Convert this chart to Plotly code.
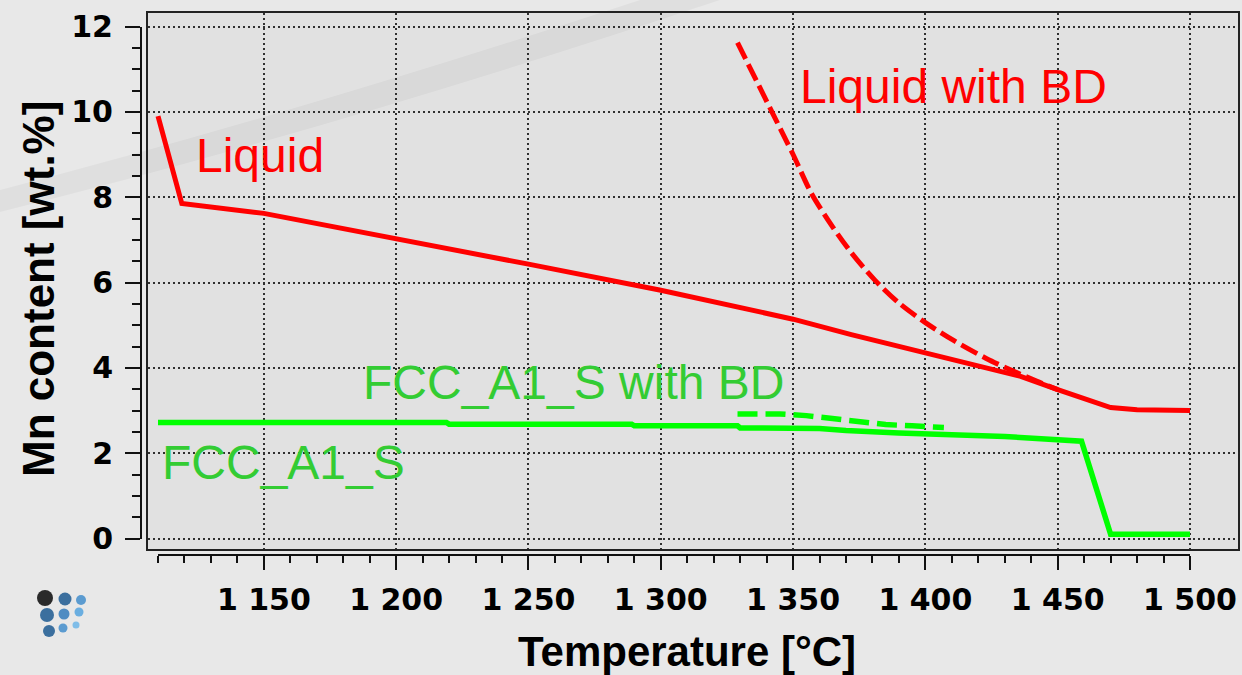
import plotly.graph_objects as go

# ---------------- data ----------------
liquid_T = [1110, 1119, 1150, 1200, 1250, 1300, 1350, 1372, 1400, 1423, 1436, 1450, 1461, 1470, 1480, 1500]
liquid_Mn = [9.9, 7.85, 7.62, 7.03, 6.43, 5.82, 5.14, 4.78, 4.36, 4.01, 3.80, 3.49, 3.26, 3.07, 3.02, 3.00]

liquid_bd_T = [1329, 1342, 1350, 1357, 1365, 1372, 1381, 1390, 1400, 1411, 1423, 1433, 1442, 1450]
liquid_bd_Mn = [11.62, 10.0, 9.0, 8.08, 7.3, 6.7, 6.05, 5.52, 5.06, 4.63, 4.22, 3.93, 3.69, 3.49]

fcc_T = [1110, 1219, 1220, 1289, 1290, 1329, 1330, 1360, 1370, 1390, 1430, 1450, 1459, 1470, 1500]
fcc_Mn = [2.72, 2.72, 2.68, 2.68, 2.64, 2.64, 2.59, 2.58, 2.53, 2.47, 2.39, 2.33, 2.28, 0.10, 0.10]

fcc_bd_T = [1329, 1345, 1355, 1362, 1372, 1385, 1395, 1407]
fcc_bd_Mn = [2.92, 2.92, 2.88, 2.83, 2.75, 2.67, 2.64, 2.60]

x_tick_vals = [1150, 1200, 1250, 1300, 1350, 1400, 1450, 1500]
x_tick_text = ["1 150", "1 200", "1 250", "1 300", "1 350", "1 400", "1 450", "1 500"]
y_tick_vals = [0, 2, 4, 6, 8, 10, 12]
y_tick_text = ["0", "2", "4", "6", "8", "10", "12"]

# ---------------- layout helpers (pixel -> paper) ----------------
W, H = 1242, 675


def px(x):
    return x / W


def py(y):
    return 1 - y / H


kx = (1190 - 158) / 390.0   # px per degree
ky = (538.5 - 26.5) / 12.0  # px per wt.%

RED = "#ff0000"
GREEN = "#00ff00"
GREEN_TXT = "#33cc33"

fig = go.Figure()

fig.add_trace(go.Scatter(x=liquid_T, y=liquid_Mn, mode="lines",
                         line=dict(color=RED, width=5), showlegend=False, hoverinfo="skip"))
fig.add_trace(go.Scatter(x=liquid_bd_T, y=liquid_bd_Mn, mode="lines",
                         line=dict(color=RED, width=5, dash="18px,6px", shape="spline", smoothing=0.8),
                         showlegend=False, hoverinfo="skip"))
fig.add_trace(go.Scatter(x=fcc_T, y=fcc_Mn, mode="lines",
                         line=dict(color=GREEN, width=5.5), showlegend=False, hoverinfo="skip"))
fig.add_trace(go.Scatter(x=fcc_bd_T, y=fcc_bd_Mn, mode="lines",
                         line=dict(color=GREEN, width=5.5, dash="20px,8px"), showlegend=False, hoverinfo="skip"))
# carrier trace for the detached tick axes
fig.add_trace(go.Scatter(x=[], y=[], xaxis="x2", yaxis="y2", showlegend=False, hoverinfo="skip"))

tickfont = dict(family="DejaVu Sans", size=30, color="#000000", weight="bold")

fig.update_layout(
    width=W, height=H,
    margin=dict(l=0, r=0, t=0, b=0, autoexpand=False),
    paper_bgcolor="#e8e8e8",
    plot_bgcolor="rgba(0,0,0,0)",
    xaxis=dict(
        domain=[px(148), px(1238)],
        range=[1110 - 10 / kx, 1500 + 48 / kx],
        automargin=False,
        showgrid=True, gridcolor="#303030", gridwidth=2, griddash="2px,3px",
        tickmode="array", tickvals=x_tick_vals,
        showticklabels=False, ticks="", zeroline=False,
        showline=True, mirror=True, linecolor="#222222", linewidth=2,
    ),
    yaxis=dict(
        domain=[py(549), py(13)],
        range=[-(549 - 538.5) / ky, 12 + (26.5 - 13) / ky],
        automargin=False,
        showgrid=True, gridcolor="#303030", gridwidth=2, griddash="2px,3px",
        tickmode="array", tickvals=y_tick_vals,
        showticklabels=False, ticks="", zeroline=False,
        showline=True, mirror=True, linecolor="#222222", linewidth=2,
    ),
    xaxis2=dict(
        domain=[px(158), px(1190)],
        range=[1110, 1500],
        anchor="free", position=py(555),
        automargin=False,
        showgrid=False, zeroline=False,
        showline=True, linecolor="#111111", linewidth=2,
        tickmode="array", tickvals=x_tick_vals, ticktext=x_tick_text,
        ticks="outside", ticklen=14, tickwidth=2, tickcolor="#111111",
        minor=dict(ticks="outside", ticklen=7, tickwidth=2, tickcolor="#111111", dtick=10, tick0=1100),
        tickfont=tickfont, ticklabelstandoff=4,
    ),
    yaxis2=dict(
        domain=[py(538.5), py(26.5)],
        range=[0, 12],
        anchor="free", position=px(141),
        automargin=False,
        showgrid=False, zeroline=False,
        showline=True, linecolor="#111111", linewidth=2,
        tickmode="array", tickvals=y_tick_vals, ticktext=y_tick_text,
        ticks="outside", ticklen=15, tickwidth=2, tickcolor="#111111",
        minor=dict(ticks="outside", ticklen=8, tickwidth=2, tickcolor="#111111", dtick=0.5, tick0=0),
        tickfont=tickfont, ticklabelstandoff=6,
    ),
)

annotations = [
    dict(text="Liquid", x=px(194), y=py(155), xanchor="left", yanchor="middle",
         font=dict(family="Liberation Sans", size=48, color=RED)),
    dict(text="Liquid with BD", x=px(798), y=py(86), xanchor="left", yanchor="middle",
         font=dict(family="Liberation Sans", size=48, color=RED)),
    dict(text="FCC_A1_S with BD", x=px(361), y=py(383), xanchor="left", yanchor="middle",
         font=dict(family="Liberation Sans", size=48, color=GREEN_TXT)),
    dict(text="FCC_A1_S", x=px(160), y=py(462), xanchor="left", yanchor="middle",
         font=dict(family="Liberation Sans", size=48, color=GREEN_TXT)),
    dict(text="Temperature [°C]", x=px(687), y=py(651), xanchor="center", yanchor="middle",
         font=dict(family="Liberation Sans", size=42, color="#000000", weight="bold")),
    dict(text="Mn content [wt.%]", x=px(38), y=py(289), xanchor="center", yanchor="middle",
         textangle=-90,
         font=dict(family="Liberation Sans", size=44, color="#000000", weight="bold")),
]
for a in annotations:
    a.update(xref="paper", yref="paper", showarrow=False)
fig.update_layout(annotations=annotations)

shapes = [
    # plot-area fill
    dict(type="rect", xref="paper", yref="paper", x0=px(148), x1=px(1238), y0=py(549), y1=py(13),
         fillcolor="#e1e1e1", line=dict(width=0), layer="below"),
    # decorative background swoosh
    dict(type="path", xref="paper", yref="paper", layer="below",
         path=f"M {px(0)},{py(212)} Q {px(330)},{py(130)} {px(720)},{py(0)} L {px(640)},{py(0)} Q {px(300)},{py(112)} {px(0)},{py(190)} Z",
         fillcolor="rgba(0,0,0,0.035)", line=dict(width=0)),
]
# small logo of spheres (decoration)
logo = [
    (45, 598, 8, "#2a2a2a"), (65, 599, 6.5, "#3b6f9e"), (81, 600, 5, "#5b9bd0"),
    (47, 615, 7, "#3b6f9e"), (64, 614, 5.5, "#4f8cc2"), (79, 612, 4.5, "#6aaee0"),
    (49, 631, 6, "#3b6f9e"), (63, 628, 4.5, "#5b9bd0"), (76, 625, 3.5, "#7fbde8"),
]
for cx, cy, r, c in logo:
    shapes.append(dict(type="circle", xref="paper", yref="paper",
                       x0=px(cx - r), x1=px(cx + r), y0=py(cy + r), y1=py(cy - r),
                       fillcolor=c, line=dict(width=0), layer="above"))
fig.update_layout(shapes=shapes)

fig.write_html("out.html")
